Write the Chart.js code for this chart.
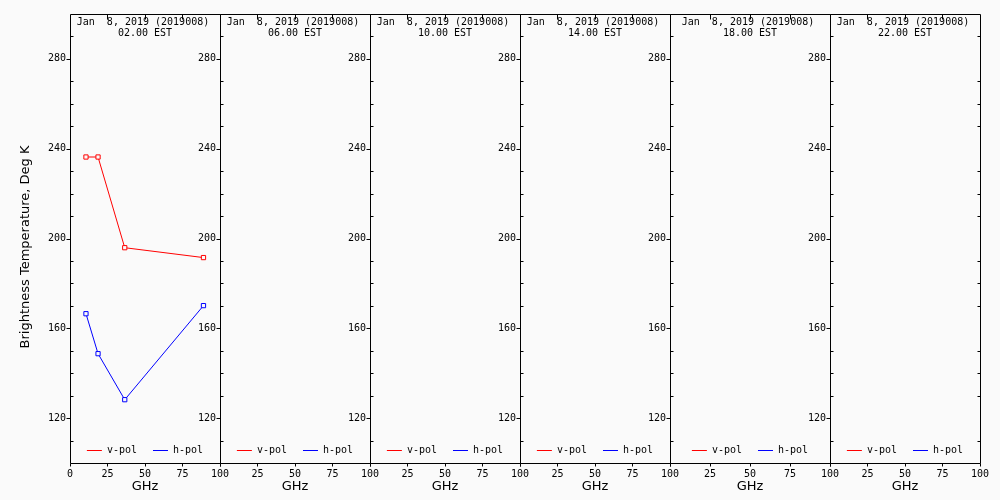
<!DOCTYPE html>
<html><head><meta charset="utf-8">
<script src="https://cdn.jsdelivr.net/npm/chart.js@4.4.1/dist/chart.umd.min.js"></script>
<style>
html,body{margin:0;padding:0;background:#fafafa;}
#wrap{position:relative;width:1000px;height:500px;overflow:hidden;background:#fafafa;}
#wrap canvas{position:absolute;top:0;}
</style></head><body><div id="wrap"></div>
<script>
// ---- data ----
const frequencies = [10.65, 18.7, 36.5, 89.0];
const vpolTb = [236.3, 236.3, 195.9, 191.5];
const hpolTb = [166.5, 148.7, 128.2, 170.1];
const panelDate = 'Jan  8, 2019 (2019008)';
const panelTimes = ['02.00 EST', '06.00 EST', '10.00 EST', '14.00 EST', '18.00 EST', '22.00 EST'];
const panelHasData = [true, false, false, false, false, false];
const yTickLabels = [120, 160, 200, 240, 280];
const yMinorTicks = [110, 130, 140, 150, 170, 180, 190, 210, 220, 230, 250, 260, 270, 290];
const xTickLabelsFirst = [0, 25, 50, 75, 100];
const xTickLabelsOther = [25, 50, 75, 100];
const xTickMarks = [0, 25, 50, 75, 100];
const xTopTicks = [25, 50, 75];
const seriesNames = ['v-pol', 'h-pol'];
const yTitle = 'Brightness Temperature, Deg K';
const xTitle = 'GHz';

// ---- layout ----
const panelEdges = [70, 220, 370, 520, 670, 830, 980];
const AXW = 70, PADR = 14, TOP = 14, XAXH = 37;
const MONO = '"DejaVu Sans Mono", monospace';
const SANS = '"DejaVu Sans", sans-serif';

const panelDecor = {
  id: 'panelDecor',
  afterDraw(chart, args, opts) {
    const {ctx, chartArea: a, scales: {x, y}} = chart;
    ctx.save();
    ctx.strokeStyle = '#000';
    ctx.lineWidth = 1;
    const L = Math.round(a.left) + 0.5, R = Math.round(a.right) + 0.5;
    const T = Math.round(a.top) + 0.5, B = Math.round(a.bottom) + 0.5;
    ctx.beginPath();
    ctx.rect(L, T, R - L, B - T);
    yTickLabels.forEach(v => {
      const p = Math.round(y.getPixelForValue(v)) + 0.5;
      ctx.moveTo(L - 4, p); ctx.lineTo(L, p);
    });
    yMinorTicks.forEach(v => {
      const p = Math.round(y.getPixelForValue(v)) + 0.5;
      ctx.moveTo(L, p); ctx.lineTo(L + 3, p);
      if (opts.last) { ctx.moveTo(R, p); ctx.lineTo(R - 3, p); }
    });
    xTickMarks.forEach(v => {
      const p = Math.round(x.getPixelForValue(v)) + 0.5;
      ctx.moveTo(p, B); ctx.lineTo(p, B + 3);
    });
    xTopTicks.forEach(v => {
      const p = Math.round(x.getPixelForValue(v)) + 0.5;
      ctx.moveTo(p, T); ctx.lineTo(p, T + 5);
    });
    ctx.stroke();

    const cx = (a.left + a.right) / 2;
    ctx.fillStyle = '#000';
    ctx.textBaseline = 'middle';
    ctx.textAlign = 'center';
    ctx.font = '10px ' + MONO;
    ctx.fillText(panelDate, cx - 2, a.top + 8);
    ctx.fillText(opts.time, cx, a.top + 19.5);

    // legend
    const ds = chart.data.datasets;
    const lineLen = 15, gap = 5, sep = 16;
    const widths = ds.map(d => ctx.measureText(d.label).width);
    let total = widths.reduce((s, w) => s + lineLen + gap + w, 0) + sep * (ds.length - 1);
    let lx = cx - total / 2;
    const ly = Math.round(a.bottom - 13) + 0.5;
    ds.forEach((d, i) => {
      ctx.strokeStyle = d.borderColor;
      ctx.beginPath(); ctx.moveTo(lx, ly); ctx.lineTo(lx + lineLen, ly); ctx.stroke();
      ctx.textAlign = 'left';
      ctx.fillText(d.label, lx + lineLen + gap, ly);
      lx += lineLen + gap + widths[i] + sep;
    });

    ctx.textAlign = 'center';
    ctx.font = '13px ' + SANS;
    ctx.fillText(xTitle, cx, 487);

    if (opts.first) {
      ctx.translate(26, 247);
      ctx.rotate(-Math.PI / 2);
      ctx.fillText(yTitle, 0, 0);
    }
    ctx.restore();
  }
};

const wrap = document.getElementById('wrap');
for (let i = 0; i < panelTimes.length; i++) {
  const pl = panelEdges[i], pr = panelEdges[i + 1];
  const cv = document.createElement('canvas');
  const w = (pr - pl) + AXW + PADR;
  cv.width = w; cv.height = 500;
  cv.style.left = (pl - AXW) + 'px';
  cv.style.width = w + 'px'; cv.style.height = '500px';
  wrap.appendChild(cv);
  const has = panelHasData[i];
  const mk = (vals) => has ? frequencies.map((f, k) => ({x: f, y: vals[k]})) : [];
  const xLabels = i === 0 ? xTickLabelsFirst : xTickLabelsOther;
  new Chart(cv, {
    type: 'line',
    data: {
      datasets: [
        {label: seriesNames[0], data: mk(vpolTb), borderColor: '#ff0000', backgroundColor: '#fafafa',
         borderWidth: 1, pointStyle: 'rect', pointRadius: 3, pointBorderWidth: 1, tension: 0},
        {label: seriesNames[1], data: mk(hpolTb), borderColor: '#0000ff', backgroundColor: '#fafafa',
         borderWidth: 1, pointStyle: 'rect', pointRadius: 3, pointBorderWidth: 1, tension: 0}
      ]
    },
    options: {
      responsive: false, animation: false, events: [],
      layout: {padding: {left: 0, right: PADR, top: TOP, bottom: 0}},
      plugins: {
        legend: {display: false}, tooltip: {enabled: false},
        panelDecor: {time: panelTimes[i], first: i === 0, last: i === panelTimes.length - 1}
      },
      scales: {
        x: {
          type: 'linear', min: 0, max: 100,
          afterBuildTicks: s => { s.ticks = xLabels.map(v => ({value: v})); },
          afterFit: s => { s.height = XAXH; },
          grid: {display: false, drawTicks: false}, border: {display: false},
          ticks: {color: '#000', font: {family: MONO, size: 10}, padding: 5, maxRotation: 0, autoSkip: false}
        },
        y: {
          type: 'linear', min: 100, max: 300,
          afterBuildTicks: s => { s.ticks = yTickLabels.map(v => ({value: v})); },
          afterFit: s => { s.width = AXW; },
          grid: {display: false, drawTicks: false}, border: {display: false},
          ticks: {color: '#000', font: {family: MONO, size: 10}, padding: 4, autoSkip: false}
        }
      }
    },
    plugins: [panelDecor]
  });
}
</script></body></html>
